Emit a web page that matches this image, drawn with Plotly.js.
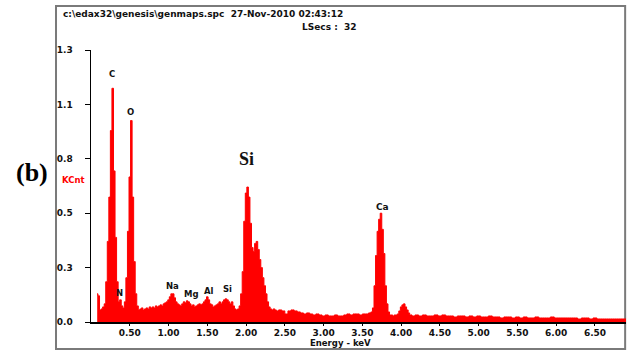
<!DOCTYPE html>
<html>
<head>
<meta charset="utf-8">
<script src="https://cdn.plot.ly/plotly-3.0.1.min.js"></script>
<style>html,body{margin:0;padding:0;background:#fff;}#chart{width:631px;height:351px;}</style>
</head>
<body>
<div id="chart"></div>
<script>
// Energy (keV) of each spectrum point
const energy = [
 0.08,0.10,0.12,0.14,0.16,0.18,0.20,0.22,0.24,0.26,0.28,0.30,0.32,0.34,0.36,0.38,0.40,0.42,0.44,0.46,0.48,0.50,0.52,0.54,0.56,0.58,0.60,0.62,
 0.64,0.66,0.68,0.70,0.72,0.74,0.76,0.78,0.80,0.82,0.84,0.86,0.88,0.90,0.92,0.94,0.96,0.98,1.00,1.02,1.04,1.06,1.08,1.10,1.12,1.14,1.16,1.18,
 1.20,1.22,1.24,1.26,1.28,1.30,1.32,1.34,1.36,1.38,1.40,1.42,1.44,1.46,1.48,1.50,1.52,1.54,1.56,1.58,1.60,1.62,1.64,1.66,1.68,1.70,1.72,1.74,
 1.76,1.78,1.80,1.82,1.84,1.86,1.88,1.90,1.92,1.94,1.96,1.98,2.00,2.02,2.04,2.06,2.08,2.10,2.12,2.14,2.16,2.18,2.20,2.22,2.24,2.26,2.28,2.30,
 2.32,2.34,2.36,2.38,2.40,
 2.44,2.48,2.52,2.56,2.60,2.64,2.68,2.72,2.76,2.80,2.84,2.88,2.92,2.96,3.00,3.04,3.08,3.12,3.16,3.20,3.24,3.28,3.32,3.36,3.40,3.44,3.48,3.52,3.56,3.60,
 3.62,3.64,3.66,3.68,3.70,3.72,3.74,3.76,3.78,3.80,3.82,3.84,3.86,3.88,3.90,3.92,3.94,3.96,3.98,4.00,4.02,4.04,4.06,4.08,4.10,4.12,4.16,
 4.20,4.25,4.30,4.35,4.40,4.45,4.50,4.55,4.60,4.65,4.70,4.75,4.80,4.85,4.90,4.95,5.00,5.05,5.10,5.15,5.20,5.25,5.30,5.35,5.40,5.45,5.50,
 5.55,5.60,5.65,5.70,5.75,5.80,5.85,5.90,5.95,6.00,6.05,6.10,6.15,6.20,6.25,6.30,6.35,6.40,6.45,6.50,6.55,6.60,6.65,6.70,6.75,6.80,6.85,6.90
];
// Counts (KCnt) at each energy
const kcnt = [
 0.14,0.13,0.06,0.065,0.075,0.09,0.20,0.40,0.62,0.95,1.16,0.75,0.42,0.20,0.10,0.11,0.08,0.07,0.10,0.22,0.45,0.72,1.00,0.62,0.30,0.14,0.08,0.06,
 0.065,0.07,0.06,0.065,0.07,0.065,0.075,0.07,0.075,0.07,0.08,0.075,0.08,0.085,0.08,0.09,0.095,0.10,0.11,0.125,0.14,0.14,0.12,0.10,0.09,0.085,0.08,0.09,
 0.10,0.095,0.105,0.10,0.09,0.08,0.085,0.075,0.08,0.085,0.09,0.085,0.09,0.10,0.11,0.125,0.11,0.09,0.085,0.075,0.08,0.085,0.09,0.10,0.09,0.10,0.11,0.115,
 0.11,0.10,0.09,0.10,0.08,0.065,0.06,0.065,0.08,0.14,0.25,0.50,0.64,0.67,0.62,0.49,0.37,0.35,0.39,0.40,0.36,0.31,0.27,0.22,0.18,0.14,0.10,0.075,
 0.065,0.06,0.065,0.06,0.055,
 0.06,0.055,0.04,0.055,0.06,0.055,0.05,0.045,0.04,0.045,0.04,0.035,0.04,0.035,0.03,0.035,0.03,0.03,0.035,0.03,0.03,0.035,0.04,0.035,0.04,0.04,0.035,0.04,0.04,0.045,
 0.05,0.07,0.18,0.33,0.45,0.51,0.54,0.46,0.34,0.18,0.09,0.05,0.035,0.035,0.03,0.035,0.035,0.04,0.055,0.075,0.085,0.09,0.075,0.06,0.045,0.035,0.03,
 0.035,0.03,0.035,0.03,0.03,0.035,0.03,0.035,0.03,0.03,0.025,0.03,0.03,0.025,0.03,0.025,0.03,0.025,0.025,0.03,0.025,0.025,0.02,0.025,0.025,0.02,0.025,
 0.02,0.025,0.02,0.02,0.025,0.02,0.02,0.02,0.025,0.02,0.02,0.02,0.02,0.02,0.02,0.015,0.02,0.02,0.015,0.02,0.015,0.015,0.015,0.015,0.015,0.015,0.015,0.015
];
// Axis ticks
const xTicks = [0.5,1.0,1.5,2.0,2.5,3.0,3.5,4.0,4.5,5.0,5.5,6.0,6.5];
const yTickVals = [0,0.27,0.54,0.81,1.08,1.35];
const yTickText = ['0.0','0.3','0.5','0.8','1.1','1.3'];
// Element peak labels
const peakNames = ['C','O','N','Na','Mg','Al','Si'];
const peakE =     [0.27,0.515,0.37,1.055,1.30,1.52,1.76];
const peakY =     [1.23,1.04,0.144,0.18,0.14,0.154,0.164];
const bigLabels = [{t:'Si', e:2.01, y:0.81}];
const caLabel = {t:'Ca', e:3.76, y:0.57};

const bold = {family:'DejaVu Sans', size:9, color:'#111', weight:'bold'};

const trace = {
  x: energy, y: kcnt, type:'scatter', mode:'lines',
  line:{color:'#ff0000', width:1, shape:'hvh'},
  fill:'tozeroy', fillcolor:'#ff0000', hoverinfo:'skip'
};

function A(o){ return Object.assign({showarrow:false, xanchor:'center', yanchor:'middle'}, o); }
const ann = [];
peakNames.forEach((n,i)=>ann.push(A({x:peakE[i], y:peakY[i], xref:'x', yref:'y', text:'<b>'+n+'</b>', font:{family:'DejaVu Sans', size:8.5, color:'#111'}})));
ann.push(A({x:caLabel.e, y:caLabel.y, xref:'x', yref:'y', text:'<b>'+caLabel.t+'</b>', font:{family:'DejaVu Sans', size:9, color:'#111'}}));
bigLabels.forEach(b=>ann.push(A({x:b.e, y:b.y, xref:'x', yref:'y', text:'<b>'+b.t+'</b>', font:{family:'Liberation Serif', size:18, color:'#111'}})));
ann.push(A({x:-0.056, y:1.132, xref:'paper', yref:'paper', xanchor:'left', text:'<b>c:\\edax32\\genesis\\genmaps.spc\u00a0\u00a027-Nov-2010 02:43:12</b>', font:{family:'DejaVu Sans', size:9, color:'#111'}}));
ann.push(A({x:0.3907, y:1.0846, xref:'paper', yref:'paper', xanchor:'left', text:'<b>LSecs :\u00a0\u00a032</b>', font:{family:'DejaVu Sans', size:9, color:'#111'}}));
ann.push(A({x:-0.110, y:0.551, xref:'paper', yref:'paper', text:'<b>(b)</b>', font:{family:'Liberation Serif', size:26, color:'#000'}}));
ann.push(A({x:-0.0336, y:0.522, xref:'paper', yref:'paper', text:'<b>KCnt</b>', font:{family:'DejaVu Sans', size:8.5, color:'#ff0000'}}));
ann.push(A({x:0.467, y:-0.079, xref:'paper', yref:'paper', text:'<b>Energy - keV</b>', font:{family:'DejaVu Sans', size:8.5, color:'#111'}}));

const layout = {
  width:631, height:351,
  margin:{l:91, r:5, t:50, b:29, pad:0},
  paper_bgcolor:'#ffffff', plot_bgcolor:'#ffffff',
  showlegend:false,
  xaxis:{range:[0,6.9], tickvals:xTicks, tickformat:'.2f', showgrid:false, zeroline:false,
         showline:true, linecolor:'#000', linewidth:1.5, ticks:'outside', ticklen:2, tickcolor:'#000',
         tickfont:bold, fixedrange:true},
  yaxis:{range:[0,1.35], tickvals:yTickVals, ticktext:yTickText, showgrid:false, zeroline:false,
         showline:true, linecolor:'#000', linewidth:1.5, ticks:'outside', ticklen:5, tickcolor:'#000',
         tickfont:bold, ticklabelstandoff:10, fixedrange:true},
  shapes:[{type:'rect', xref:'paper', yref:'paper', x0:-0.0654, x1:0.9984, y0:-0.0993, y1:1.1618,
           line:{color:'#7a7a7a', width:2}, fillcolor:'rgba(0,0,0,0)', layer:'below'}],
  annotations: ann
};

Plotly.newPlot('chart', [trace], layout, {displayModeBar:false, staticPlot:true});
</script>
</body>
</html>
